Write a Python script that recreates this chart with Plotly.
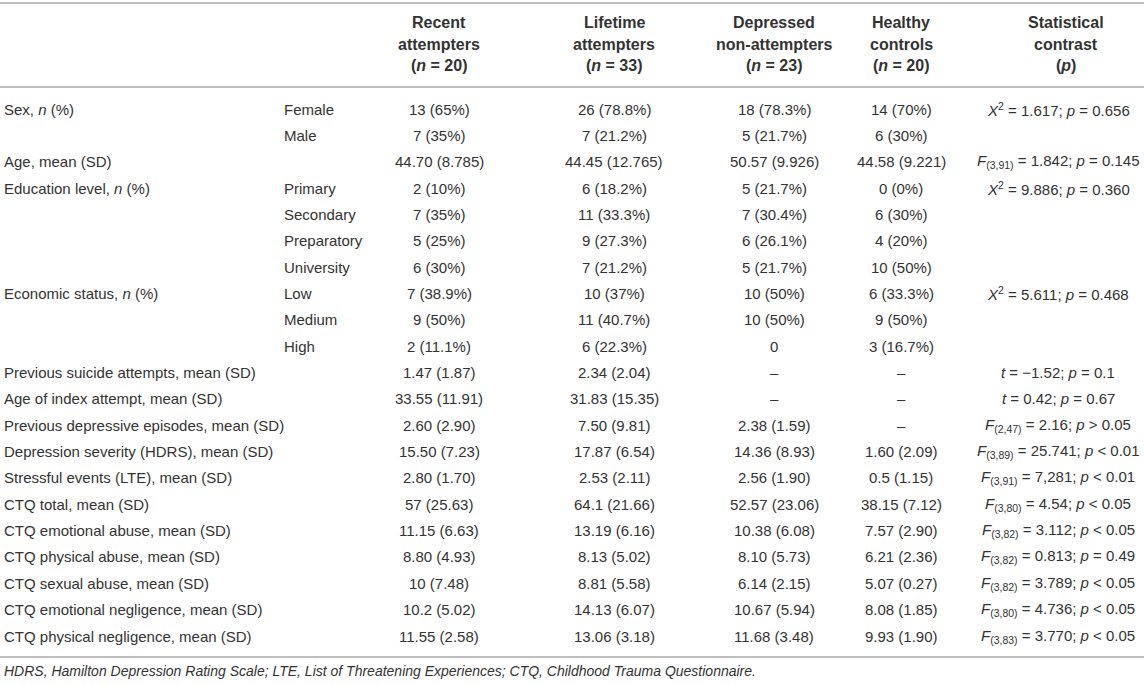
import plotly.graph_objects as go

W, H = 1144, 685

# table content
row_labels = [
    "Sex, <i>n</i> (%)", "", "Age, mean (SD)", "Education level, <i>n</i> (%)", "", "", "",
    "Economic status, <i>n</i> (%)", "", "",
    "Previous suicide attempts, mean (SD)", "Age of index attempt, mean (SD)",
    "Previous depressive episodes, mean (SD)", "Depression severity (HDRS), mean (SD)",
    "Stressful events (LTE), mean (SD)", "CTQ total, mean (SD)",
    "CTQ emotional abuse, mean (SD)", "CTQ physical abuse, mean (SD)",
    "CTQ sexual abuse, mean (SD)", "CTQ emotional negligence, mean (SD)",
    "CTQ physical negligence, mean (SD)",
]
sub_labels = ["Female", "Male", "", "Primary", "Secondary", "Preparatory", "University",
              "Low", "Medium", "High", "", "", "", "", "", "", "", "", "", "", ""]

recent = ["13 (65%)", "7 (35%)", "44.70 (8.785)", "2 (10%)", "7 (35%)", "5 (25%)", "6 (30%)",
          "7 (38.9%)", "9 (50%)", "2 (11.1%)", "1.47 (1.87)", "33.55 (11.91)", "2.60 (2.90)",
          "15.50 (7.23)", "2.80 (1.70)", "57 (25.63)", "11.15 (6.63)", "8.80 (4.93)",
          "10 (7.48)", "10.2 (5.02)", "11.55 (2.58)"]
lifetime = ["26 (78.8%)", "7 (21.2%)", "44.45 (12.765)", "6 (18.2%)", "11 (33.3%)", "9 (27.3%)",
            "7 (21.2%)", "10 (37%)", "11 (40.7%)", "6 (22.3%)", "2.34 (2.04)", "31.83 (15.35)",
            "7.50 (9.81)", "17.87 (6.54)", "2.53 (2.11)", "64.1 (21.66)", "13.19 (6.16)",
            "8.13 (5.02)", "8.81 (5.58)", "14.13 (6.07)", "13.06 (3.18)"]
depressed = ["18 (78.3%)", "5 (21.7%)", "50.57 (9.926)", "5 (21.7%)", "7 (30.4%)", "6 (26.1%)",
             "5 (21.7%)", "10 (50%)", "10 (50%)", "0", "–", "–", "2.38 (1.59)", "14.36 (8.93)",
             "2.56 (1.90)", "52.57 (23.06)", "10.38 (6.08)", "8.10 (5.73)", "6.14 (2.15)",
             "10.67 (5.94)", "11.68 (3.48)"]
healthy = ["14 (70%)", "6 (30%)", "44.58 (9.221)", "0 (0%)", "6 (30%)", "4 (20%)", "10 (50%)",
           "6 (33.3%)", "9 (50%)", "3 (16.7%)", "–", "–", "–", "1.60 (2.09)", "0.5 (1.15)",
           "38.15 (7.12)", "7.57 (2.90)", "6.21 (2.36)", "5.07 (0.27)", "8.08 (1.85)",
           "9.93 (1.90)"]
contrast = [
    "<i>X</i><sup>2</sup> = 1.617; <i>p</i> = 0.656", "",
    "<i>F</i><sub>(3,91)</sub> = 1.842; <i>p</i> = 0.145",
    "<i>X</i><sup>2</sup> = 9.886; <i>p</i> = 0.360", "", "", "",
    "<i>X</i><sup>2</sup> = 5.611; <i>p</i> = 0.468", "", "",
    "<i>t</i> = −1.52; <i>p</i> = 0.1",
    "<i>t</i> = 0.42; <i>p</i> = 0.67",
    "<i>F</i><sub>(2,47)</sub> = 2.16; <i>p</i> &gt; 0.05",
    "<i>F</i><sub>(3,89)</sub> = 25.741; <i>p</i> &lt; 0.01",
    "<i>F</i><sub>(3,91)</sub> = 7,281; <i>p</i> &lt; 0.01",
    "<i>F</i><sub>(3,80)</sub> = 4.54; <i>p</i> &lt; 0.05",
    "<i>F</i><sub>(3,82)</sub> = 3.112; <i>p</i> &lt; 0.05",
    "<i>F</i><sub>(3,82)</sub> = 0.813; <i>p</i> = 0.49",
    "<i>F</i><sub>(3,82)</sub> = 3.789; <i>p</i> &lt; 0.05",
    "<i>F</i><sub>(3,80)</sub> = 4.736; <i>p</i> &lt; 0.05",
    "<i>F</i><sub>(3,83)</sub> = 3.770; <i>p</i> &lt; 0.05",
]

headers = [
    ["Recent", "attempters", "(<i>n</i> = 20)"],
    ["Lifetime", "attempters", "(<i>n</i> = 33)"],
    ["Depressed", "non-attempters", "(<i>n</i> = 23)"],
    ["Healthy", "controls", "(<i>n</i> = 20)"],
    ["Statistical", "contrast", "(<i>p</i>)"],
]
footnote = ("<i>HDRS, Hamilton Depression Rating Scale; LTE, List of Threatening Experiences; "
            "CTQ, Childhood Trauma Questionnaire.</i>")

# layout (pixels)
col_x = [439, 614, 774, 901, 1058]
head_x = [439, 614, 774, 901, 1066]
head_y = [22, 44, 65]
row_y0, row_dy = 109, 26.35
font = "Liberation Sans, Arial, sans-serif"
txt = "#333333"
line_col = "#a8a8a8"

fig = go.Figure()
ann = []

def add(x, y, s, anchor="center", size=15):
    ann.append(dict(x=x, y=y, xref="x", yref="y", text=s, showarrow=False,
                    xanchor=anchor, yanchor="middle", font=dict(family=font, size=size, color=txt)))

for c, lines in enumerate(headers):
    for k, s in enumerate(lines):
        add(head_x[c], head_y[k], "<b>" + s + "</b>", size=16)

cols = [recent, lifetime, depressed, healthy, contrast]
for i in range(len(row_labels)):
    y = row_y0 + i * row_dy
    if row_labels[i]:
        add(2, y, row_labels[i], anchor="left")
    if sub_labels[i]:
        add(282, y, sub_labels[i], anchor="left")
    for c, col in enumerate(cols):
        if col[i]:
            add(col_x[c], y, col[i])

add(2, 671, footnote, anchor="left", size=14)

shapes = []
for ly in [3, 87, 657]:
    shapes.append(dict(type="line", xref="x", yref="y", x0=0, x1=W, y0=ly, y1=ly,
                       line=dict(color=line_col, width=1.5)))

fig.update_layout(
    width=W, height=H, margin=dict(l=0, r=0, t=0, b=0),
    paper_bgcolor="white", plot_bgcolor="white",
    xaxis=dict(range=[0, W], visible=False, fixedrange=True),
    yaxis=dict(range=[H, 0], visible=False, fixedrange=True),
    annotations=ann, shapes=shapes, showlegend=False,
)

# drop the default page margin so the figure sits at the window's top-left
fig.write_html("out.html", post_script="document.body.style.margin='0px';",
               config={"displayModeBar": False})
